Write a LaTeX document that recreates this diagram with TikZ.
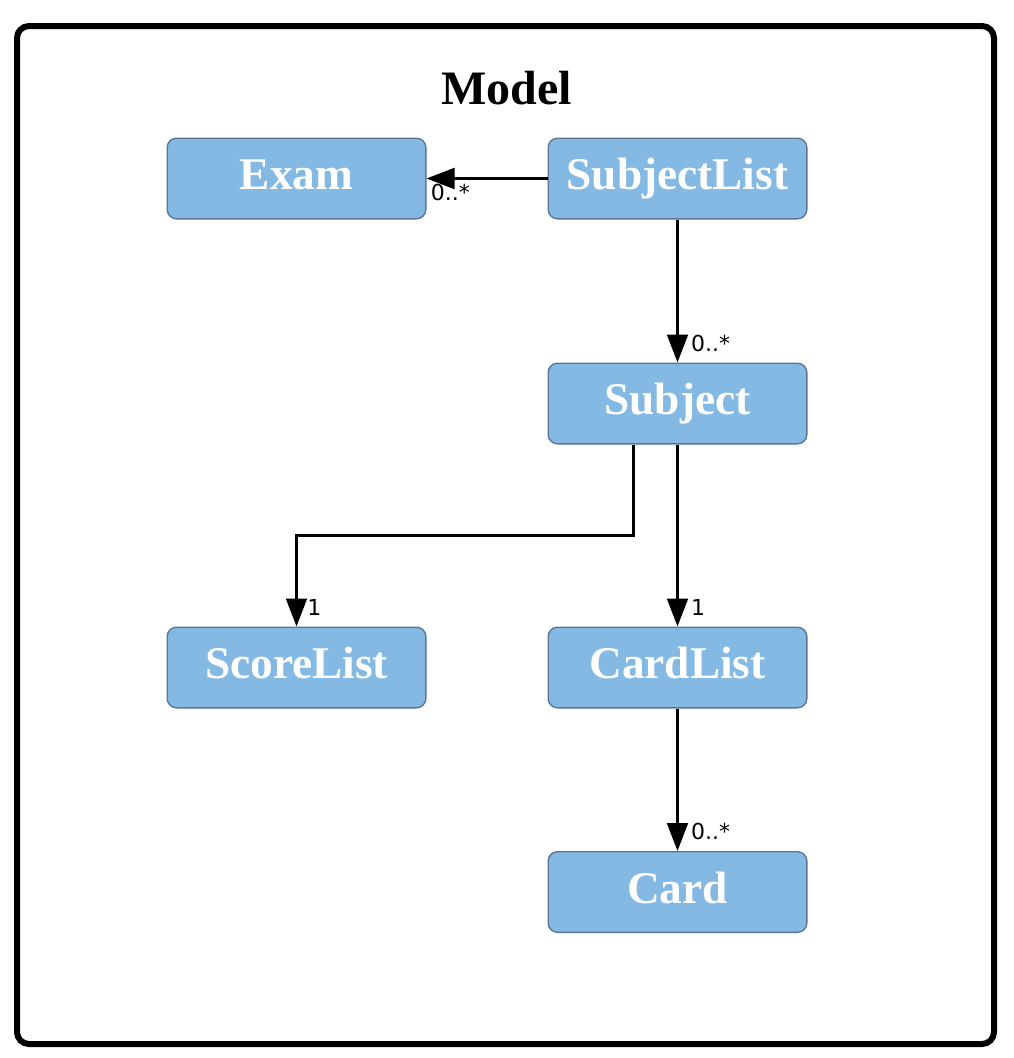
\documentclass[tikz,border=0pt]{standalone}
\usepackage{fontspec}
\setmainfont{Liberation Serif}
\newfontfamily\lblfont{DejaVu Sans}
\usetikzlibrary{arrows.meta}
\definecolor{boxfill}{RGB}{131,185,227}
\definecolor{boxline}{RGB}{88,118,148}
\begin{document}
\begin{tikzpicture}[x=0.75pt,y=-0.75pt,
  cls/.style={draw=boxline, fill=boxfill, line width=1pt, rounded corners=7pt,
    minimum width=194pt, minimum height=60.5pt, inner sep=0pt,
    text height=22pt, text depth=5pt,
    text=white, font=\fontsize{34}{36}\selectfont\bfseries},
  arr/.style={line width=2.3pt, -{Triangle[length=21pt,width=15.5pt]}},
  lbl/.style={font=\lblfont\fontsize{16.5}{18}\selectfont, inner sep=0pt}]
\useasboundingbox (0,0) rectangle (1014,1058);
\draw[line width=4.5pt, rounded corners=9pt] (17,26) rectangle (994,1044);
\node[font=\fontsize{36}{40}\selectfont\bfseries] (title) at (507,88) {Model};
\node[cls] (exam) at (296.5,178.5) {Exam};
\node[cls] (sublist) at (677.5,178.5) {SubjectList};
\node[cls] (subject) at (677.5,403.5) {Subject};
\node[cls] (score) at (296.5,667.5) {ScoreList};
\node[cls] (cardlist) at (677.5,667.5) {CardList};
\node[cls] (card) at (677.5,892) {Card};
\draw[arr] (sublist) -- (exam);
\node[lbl, anchor=north west] at ([xshift=3pt,yshift=-4pt]exam.east) {0..*};
\draw[arr] (sublist) -- (subject);
\node[lbl, anchor=south west] at ([xshift=10pt,yshift=8pt]subject.north) {0..*};
\draw[arr] ([xshift=-33pt]subject.south) -- ++(0,91) -| (score.north);
\node[lbl, anchor=south west] at ([xshift=8pt,yshift=8pt]score.north) {1};
\draw[arr] (subject) -- (cardlist);
\node[lbl, anchor=south west] at ([xshift=10pt,yshift=8pt]cardlist.north) {1};
\draw[arr] (cardlist) -- (card);
\node[lbl, anchor=south west] at ([xshift=10pt,yshift=8pt]card.north) {0..*};
\end{tikzpicture}
\end{document}
